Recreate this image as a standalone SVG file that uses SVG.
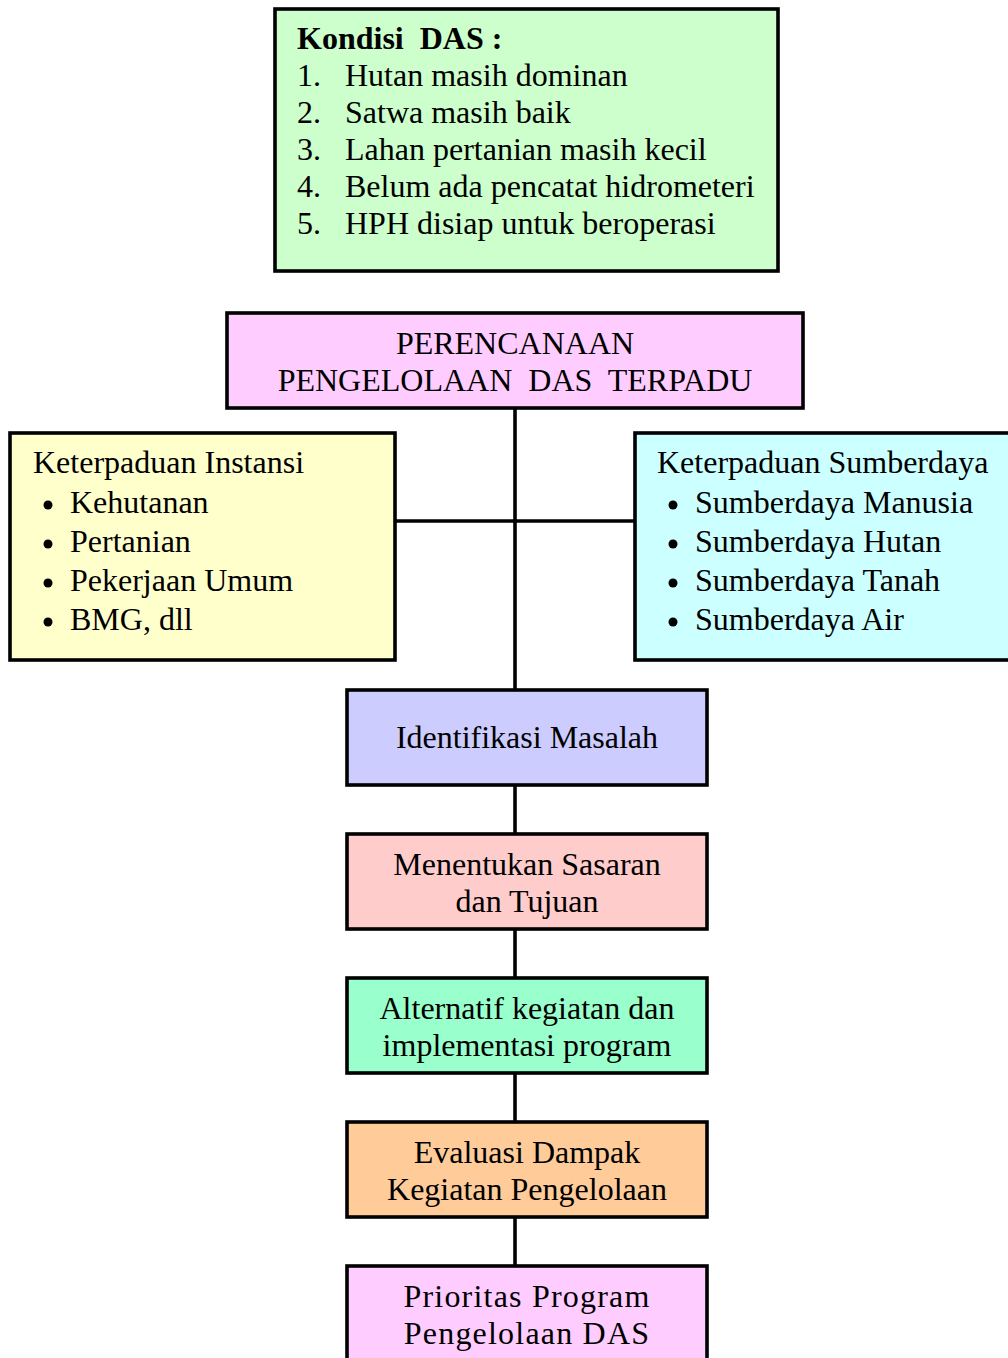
<svg xmlns="http://www.w3.org/2000/svg" width="1008" height="1358" viewBox="0 0 1008 1358">
<style>
  .box { stroke: #000; stroke-width: 3.6; }
  text { font-family: "Liberation Serif", "Times New Roman", serif; font-size: 32px; fill: #000; }
  .c { text-anchor: middle; }
  .b { font-weight: bold; }
  .conn { stroke: #000; stroke-width: 3.6; fill: none; }
</style>
<rect width="1008" height="1358" fill="#fff"/>
<g id="connectors">
  <line class="conn" x1="515" y1="408" x2="515" y2="690"/>
  <line class="conn" x1="395" y1="521" x2="635" y2="521"/>
  <line class="conn" x1="515" y1="785" x2="515" y2="834"/>
  <line class="conn" x1="515" y1="929" x2="515" y2="978"/>
  <line class="conn" x1="515" y1="1073" x2="515" y2="1122"/>
  <line class="conn" x1="515" y1="1217" x2="515" y2="1266"/>
</g>
<g id="kondisi">
  <rect class="box" x="275" y="9" width="503" height="262" fill="#CCFFCC"/>
  <text class="b" x="297" y="49" xml:space="preserve">Kondisi  DAS :</text>
  <text x="297" y="86">1.</text><text x="345" y="86">Hutan masih dominan</text>
  <text x="297" y="123">2.</text><text x="345" y="123">Satwa masih baik</text>
  <text x="297" y="160">3.</text><text x="345" y="160">Lahan pertanian masih kecil</text>
  <text x="297" y="197">4.</text><text x="345" y="197">Belum ada pencatat hidrometeri</text>
  <text x="297" y="234">5.</text><text x="345" y="234">HPH disiap untuk beroperasi</text>
</g>
<g id="perencanaan">
  <rect class="box" x="227" y="313" width="576" height="95" fill="#FFCCFF"/>
  <text class="c" x="515" y="354">PERENCANAAN</text>
  <text class="c" x="515" y="391" xml:space="preserve">PENGELOLAAN  DAS  TERPADU</text>
</g>
<g id="instansi">
  <rect class="box" x="10" y="433" width="385" height="227" fill="#FFFFCC"/>
  <text x="33" y="473">Keterpaduan Instansi</text>
  <circle cx="48" cy="505" r="4.5"/><text x="70" y="513">Kehutanan</text>
  <circle cx="48" cy="544" r="4.5"/><text x="70" y="552">Pertanian</text>
  <circle cx="48" cy="583" r="4.5"/><text x="70" y="591">Pekerjaan Umum</text>
  <circle cx="48" cy="622" r="4.5"/><text x="70" y="630">BMG, dll</text>
</g>
<g id="sumberdaya">
  <rect class="box" x="635" y="433" width="380" height="227" fill="#CCFFFF"/>
  <text x="657" y="473">Keterpaduan Sumberdaya</text>
  <circle cx="673" cy="505" r="4.5"/><text x="695" y="513">Sumberdaya Manusia</text>
  <circle cx="673" cy="544" r="4.5"/><text x="695" y="552">Sumberdaya Hutan</text>
  <circle cx="673" cy="583" r="4.5"/><text x="695" y="591">Sumberdaya Tanah</text>
  <circle cx="673" cy="622" r="4.5"/><text x="695" y="630">Sumberdaya Air</text>
</g>
<g id="identifikasi">
  <rect class="box" x="347" y="690" width="360" height="95" fill="#CCCCFF"/>
  <text class="c" x="527" y="748">Identifikasi Masalah</text>
</g>
<g id="sasaran">
  <rect class="box" x="347" y="834" width="360" height="95" fill="#FFCCCC"/>
  <text class="c" x="527" y="875">Menentukan Sasaran</text>
  <text class="c" x="527" y="912">dan Tujuan</text>
</g>
<g id="alternatif">
  <rect class="box" x="347" y="978" width="360" height="95" fill="#99FFCC"/>
  <text class="c" x="527" y="1019">Alternatif kegiatan dan</text>
  <text class="c" x="527" y="1056">implementasi program</text>
</g>
<g id="evaluasi">
  <rect class="box" x="347" y="1122" width="360" height="95" fill="#FFCC99"/>
  <text class="c" x="527" y="1163">Evaluasi Dampak</text>
  <text class="c" x="527" y="1200">Kegiatan Pengelolaan</text>
</g>
<g id="prioritas">
  <rect class="box" x="347" y="1266" width="360" height="110" fill="#FFCCFF"/>
  <text class="c" x="527" y="1307" letter-spacing="1.2">Prioritas Program</text>
  <text class="c" x="527" y="1344" letter-spacing="1.2">Pengelolaan DAS</text>
</g>
</svg>
